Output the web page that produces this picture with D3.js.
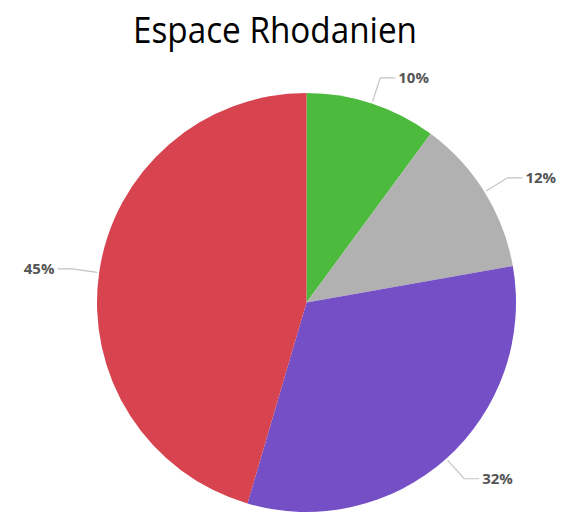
<!DOCTYPE html>
<html>
<head>
<meta charset="utf-8">
<script src="https://cdn.jsdelivr.net/npm/d3@7"></script>
<style>
  html, body { margin: 0; padding: 0; background: #fff; }
  svg { display: block; }
</style>
</head>
<body>
<svg id="chart" width="564" height="513"></svg>
<script>
// Share of each segment (percent), clockwise from 12 o'clock
const categories = ["A", "B", "C", "D"];
const values = [10, 12, 32, 45];
const colors = ["#4cba3d", "#b1b1b1", "#744fc6", "#d7434f"];
const title = "Espace Rhodanien";

const svg = d3.select("#chart");
const cx = 306.5, cy = 302.5, R = 209.5;

svg.append("text")
  .attr("x", 275).attr("y", 43)
  .attr("text-anchor", "middle")
  .attr("font-family", "Open Sans, sans-serif")
  .attr("font-size", 36)
  .attr("textLength", 284)
  .attr("lengthAdjust", "spacingAndGlyphs")
  .attr("fill", "#000")
  .text(title);

const data = categories.map((c, i) => ({ cat: c, value: values[i], color: colors[i] }));
const pie = d3.pie().value(d => d.value).sort(null);
const arcs = pie(data);
const arc = d3.arc().innerRadius(0).outerRadius(R);

const g = svg.append("g").attr("transform", `translate(${cx},${cy})`);

g.selectAll("path.slice")
  .data(arcs)
  .join("path")
  .attr("class", "slice")
  .attr("d", arc)
  .attr("fill", d => d.data.color);

// Leader lines and percentage labels
const pt = (a, r) => [Math.sin(a) * r, -Math.cos(a) * r];
arcs.forEach(d => {
  const mid = (d.startAngle + d.endAngle) / 2;
  const p0 = pt(mid, R + 2);
  const p1 = pt(mid, R + 27);
  const side = Math.sin(mid) >= 0 ? 1 : -1;
  const p2 = [p1[0] + side * 15, p1[1]];
  g.append("path")
    .attr("d", d3.line()([p0, p1, p2]))
    .attr("fill", "none")
    .attr("stroke", "#c4c4c4")
    .attr("stroke-width", 1.2);
  g.append("text")
    .attr("x", p2[0] + side * 3)
    .attr("y", p2[1])
    .attr("dy", "0.35em")
    .attr("text-anchor", side > 0 ? "start" : "end")
    .attr("font-family", "Open Sans, sans-serif")
    .attr("font-weight", "bold")
    .attr("font-size", 15)
    .attr("fill", "#555")
    .text(d.data.value + "%");
});
</script>
</body>
</html>
